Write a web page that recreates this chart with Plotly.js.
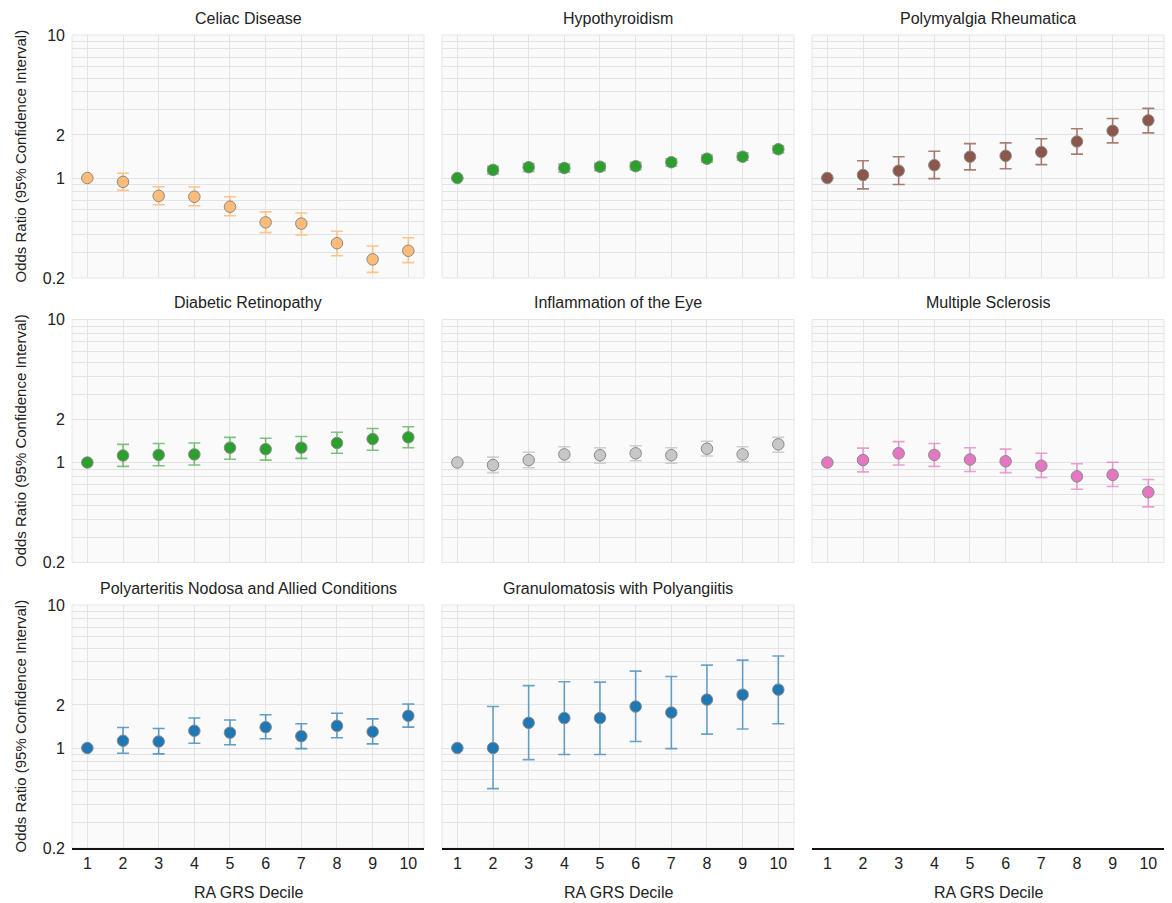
<!DOCTYPE html>
<html>
<head>
<meta charset="utf-8">
<script src="https://cdn.plot.ly/plotly-3.0.1.min.js"></script>
<style>html,body{margin:0;padding:0;background:#fff}#chart{width:1172px;height:903px}</style>
</head>
<body>
<div id="chart"></div>
<script>
// ---- Data ----
const deciles = [1, 2, 3, 4, 5, 6, 7, 8, 9, 10];
const xTickLabels = ['1','2','3','4','5','6','7','8','9','10'];
const yTickVals = [0.2,0.3,0.4,0.5,0.6,0.7,0.8,0.9,1,2,3,4,5,6,7,8,9,10];
const yTickText = ['0.2','','','','','','','','1','2','','','','','','','','10'];

const panelTitles = [
  'Celiac Disease', 'Hypothyroidism', 'Polymyalgia Rheumatica',
  'Diabetic Retinopathy', 'Inflammation of the Eye', 'Multiple Sclerosis',
  'Polyarteritis Nodosa and Allied Conditions', 'Granulomatosis with Polyangiitis'
];
const xAxisTitle = 'RA GRS Decile';
const yAxisTitle = 'Odds Ratio (95% Confidence Interval)';

// Odds ratios, lower and upper 95% CI (decile 1 is the reference)
const celiacOR = [1, 0.94, 0.75, 0.74, 0.63, 0.49, 0.48, 0.35, 0.27, 0.31];
const celiacLo = [1, 0.82, 0.65, 0.64, 0.545, 0.415, 0.40, 0.286, 0.219, 0.256];
const celiacHi = [1, 1.08, 0.87, 0.865, 0.74, 0.58, 0.57, 0.424, 0.335, 0.382];

const hypoOR = [1, 1.14, 1.19, 1.175, 1.20, 1.21, 1.29, 1.365, 1.41, 1.59];
const hypoLo = [1, 1.07, 1.11, 1.10, 1.125, 1.144, 1.21, 1.29, 1.33, 1.50];
const hypoHi = [1, 1.21, 1.26, 1.25, 1.27, 1.29, 1.365, 1.45, 1.50, 1.68];

const pmrOR = [1, 1.05, 1.125, 1.23, 1.41, 1.43, 1.52, 1.80, 2.14, 2.53];
const pmrLo = [1, 0.84, 0.90, 0.99, 1.14, 1.16, 1.24, 1.47, 1.76, 2.07];
const pmrHi = [1, 1.32, 1.41, 1.54, 1.74, 1.76, 1.88, 2.21, 2.61, 3.07];

const retinoOR = [1, 1.12, 1.13, 1.14, 1.27, 1.24, 1.27, 1.37, 1.46, 1.50];
const retinoLo = [1, 0.94, 0.95, 0.96, 1.055, 1.04, 1.07, 1.16, 1.22, 1.27];
const retinoHi = [1, 1.34, 1.36, 1.37, 1.50, 1.48, 1.52, 1.63, 1.73, 1.78];

const eyeOR = [1, 0.96, 1.04, 1.14, 1.125, 1.16, 1.125, 1.25, 1.14, 1.34];
const eyeLo = [1, 0.85, 0.92, 1.005, 0.99, 1.03, 0.99, 1.11, 1.01, 1.18];
const eyeHi = [1, 1.09, 1.18, 1.29, 1.27, 1.31, 1.27, 1.41, 1.29, 1.50];

const msOR = [1, 1.04, 1.16, 1.13, 1.05, 1.02, 0.95, 0.80, 0.82, 0.62];
const msLo = [1, 0.86, 0.96, 0.94, 0.865, 0.85, 0.785, 0.65, 0.68, 0.49];
const msHi = [1, 1.26, 1.40, 1.36, 1.27, 1.24, 1.16, 0.98, 1.005, 0.76];

const panOR = [1, 1.125, 1.11, 1.32, 1.28, 1.40, 1.21, 1.43, 1.30, 1.68];
const panLo = [1, 0.92, 0.91, 1.08, 1.055, 1.16, 0.99, 1.18, 1.07, 1.40];
const panHi = [1, 1.39, 1.37, 1.62, 1.57, 1.71, 1.48, 1.75, 1.60, 2.03];

const gpaOR = [1, 1.0, 1.50, 1.62, 1.62, 1.95, 1.77, 2.18, 2.36, 2.56];
const gpaLo = [1, 0.52, 0.83, 0.90, 0.90, 1.11, 0.99, 1.25, 1.36, 1.48];
const gpaHi = [1, 1.95, 2.73, 2.91, 2.89, 3.45, 3.16, 3.80, 4.12, 4.40];

// ---- Styles ----
const markerColors = ['#ffbb78', '#2ca02c', '#8c564b', '#2ca02c', '#c7c7c7', '#e377c2', '#1f77b4', '#1f77b4'];
const barColors = ['rgba(255,187,120,0.85)', 'rgba(44,160,44,0.55)', 'rgba(140,86,75,0.75)', 'rgba(44,160,44,0.6)',
                   'rgba(199,199,199,0.85)', 'rgba(227,119,194,0.7)', 'rgba(31,119,180,0.7)', 'rgba(31,119,180,0.65)'];
const series = [
  [celiacOR, celiacLo, celiacHi], [hypoOR, hypoLo, hypoHi], [pmrOR, pmrLo, pmrHi],
  [retinoOR, retinoLo, retinoHi], [eyeOR, eyeLo, eyeHi], [msOR, msLo, msHi],
  [panOR, panLo, panHi], [gpaOR, gpaLo, gpaHi]
];

const W = 1172, H = 903;
const colPx = [[72, 424], [442, 794], [812, 1164]];
const rowPx = [[35, 278], [319.5, 562.5], [605, 848]];
const FONT = 'Liberation Sans, Arial, Helvetica, sans-serif';

const traces = [];
const layout = {
  width: W, height: H,
  margin: {l: 0, r: 0, t: 0, b: 0},
  paper_bgcolor: '#ffffff', plot_bgcolor: 'rgba(0,0,0,0)',
  showlegend: false,
  font: {family: FONT, size: 14, color: '#222'},
  shapes: [], annotations: []
};

for (let i = 0; i < 9; i++) {
  const r = Math.floor(i / 3), c = i % 3;
  const idx = i === 0 ? '' : String(i + 1);
  const xa = 'xaxis' + idx, ya = 'yaxis' + idx;
  const hasData = i < 8;
  layout[xa] = {
    domain: [colPx[c][0] / W, colPx[c][1] / W],
    anchor: 'y' + idx,
    range: [0.57, 10.44],
    tickvals: deciles, ticktext: xTickLabels,
    showticklabels: r === 2,
    showgrid: hasData, gridcolor: '#e3e3e3', gridwidth: 1,
    zeroline: false, ticks: '',
    showline: r === 2, linecolor: '#111', linewidth: 1.5,
    tickfont: {size: 16, color: '#222'},
    fixedrange: true
  };
  layout[ya] = {
    domain: [1 - rowPx[r][1] / H, 1 - rowPx[r][0] / H],
    anchor: 'x' + idx,
    type: 'log',
    range: [Math.log10(0.2), 1],
    tickvals: yTickVals, ticktext: yTickText,
    showticklabels: c === 0,
    showgrid: hasData, gridcolor: '#e3e3e3', gridwidth: 1,
    zeroline: false, ticks: '', showline: false,
    tickfont: {size: 16, color: '#222'},
    ticklabelstandoff: 6,
    visible: hasData,
    fixedrange: true
  };
  if (hasData) {
    layout.shapes.push({
      type: 'rect', xref: 'x' + idx + ' domain', yref: 'y' + idx + ' domain',
      x0: 0, x1: 1, y0: 0, y1: 1, layer: 'below',
      fillcolor: '#fafafa', line: {color: '#e6e6e6', width: 1}
    });
    const [or, lo, hi] = series[i];
    traces.push({
      type: 'scatter', mode: 'markers',
      x: deciles, y: or,
      xaxis: 'x' + idx, yaxis: 'y' + idx,
      marker: {size: 11.5, color: markerColors[i], line: {color: '#8a8a8a', width: 1}},
      error_y: {
        type: 'data', symmetric: false,
        array: or.map((v, k) => hi[k] - v),
        arrayminus: or.map((v, k) => v - lo[k]),
        color: barColors[i], thickness: 1.6, width: 6
      },
      hoverinfo: 'x+y'
    });
    layout.annotations.push({
      text: panelTitles[i], xref: 'paper', yref: 'paper',
      x: (colPx[c][0] + colPx[c][1]) / 2 / W,
      y: 1 - (rowPx[r][0] - 17) / H,
      xanchor: 'center', yanchor: 'middle', showarrow: false,
      font: {size: 16, color: '#222'}
    });
  } else {
    traces.push({type: 'scatter', mode: 'markers', x: [], y: [], xaxis: 'x' + idx, yaxis: 'y' + idx, hoverinfo: 'skip'});
  }
  if (c === 0) {
    layout.annotations.push({
      text: yAxisTitle, xref: 'paper', yref: 'paper',
      x: 20 / W, y: 1 - (rowPx[r][0] + rowPx[r][1]) / 2 / H,
      xanchor: 'center', yanchor: 'middle', textangle: -90, showarrow: false,
      font: {size: 15, color: '#222'}
    });
  }
  if (r === 2) {
    layout.annotations.push({
      text: xAxisTitle, xref: 'paper', yref: 'paper',
      x: (colPx[c][0] + colPx[c][1]) / 2 / W, y: 1 - 892 / H,
      xanchor: 'center', yanchor: 'middle', showarrow: false,
      font: {size: 16, color: '#222'}
    });
  }
}

Plotly.newPlot('chart', traces, layout, {displayModeBar: false, staticPlot: true});
</script>
</body>
</html>
